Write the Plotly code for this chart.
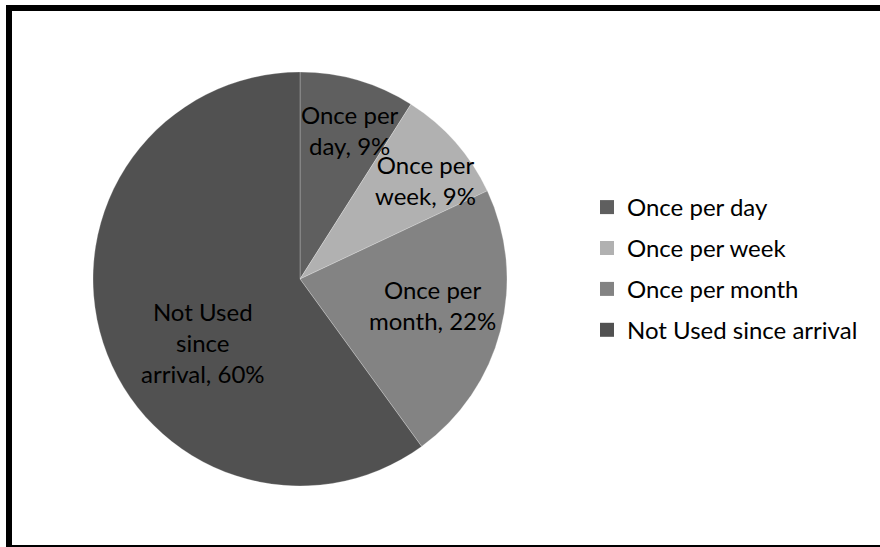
import math
import plotly.graph_objects as go

# ---- data ----
categories = ["Once per day", "Once per week", "Once per month", "Not Used since arrival"]
percent_values = [9, 9, 22, 60]
label_texts = ["Once per<br>day, 9%", "Once per<br>week, 9%", "Once per<br>month, 22%", "Not Used<br>since<br>arrival, 60%"]
slice_colors = ["#5f5f5f", "#b1b1b1", "#838383", "#515151"]

# ---- layout constants ----
W, H = 880, 547
cx, cy, R = 300, 279, 207          # pie centre / radius in pixels
label_angle = [18.4, 51.8, 101.0, 236.6]   # label placement (deg clockwise from top)
label_frac = [0.76, 0.77, 0.65, 0.56]      # label distance as fraction of radius
FONT = "Lato"

fig = go.Figure()
fig.add_trace(go.Pie(
    labels=categories,
    values=percent_values,
    sort=False,
    direction="clockwise",
    rotation=0,
    marker=dict(colors=slice_colors, line=dict(color="rgba(255,255,255,0.25)", width=1)),
    textinfo="none",
    hoverinfo="label+percent",
    showlegend=False,
    domain=dict(x=[(cx - R) / W, (cx + R) / W], y=[(H - cy - R) / H, (H - cy + R) / H]),
))

# legend entries (one group each so spacing can be controlled)
for i, (cat, col) in enumerate(zip(categories, slice_colors)):
    fig.add_trace(go.Scatter(
        x=[None], y=[None], mode="markers", name=cat,
        marker=dict(symbol="square", size=14, color=col),
        legendgroup=f"g{i}", showlegend=True, hoverinfo="skip",
    ))

annotations = []
for txt, ang, fr in zip(label_texts, label_angle, label_frac):
    a = math.radians(ang)
    px = cx + R * fr * math.sin(a)
    py = cy - R * fr * math.cos(a)
    annotations.append(dict(
        x=px / W, y=1 - py / H, xref="paper", yref="paper",
        text=txt, showarrow=False, xanchor="center", yanchor="middle",
        font=dict(family=FONT, size=24, color="#000000"), align="center",
    ))

fig.update_layout(
    width=W, height=H,
    margin=dict(l=0, r=0, t=0, b=0),
    paper_bgcolor="white", plot_bgcolor="white",
    xaxis=dict(visible=False), yaxis=dict(visible=False),
    annotations=annotations,
    legend=dict(
        x=587 / W, y=1 - 185 / H, xanchor="left", yanchor="top",
        font=dict(family=FONT, size=24, color="#000000"),
        tracegroupgap=6.7, bgcolor="rgba(0,0,0,0)",
    ),
    shapes=[dict(type="rect", xref="paper", yref="paper",
                 x0=9 / W, x1=1.05, y0=-1 / H, y1=1 - 8 / H,
                 line=dict(color="black", width=6), fillcolor="rgba(0,0,0,0)", layer="above")],
    hovermode="closest",
)

fig.write_html("out.html")
